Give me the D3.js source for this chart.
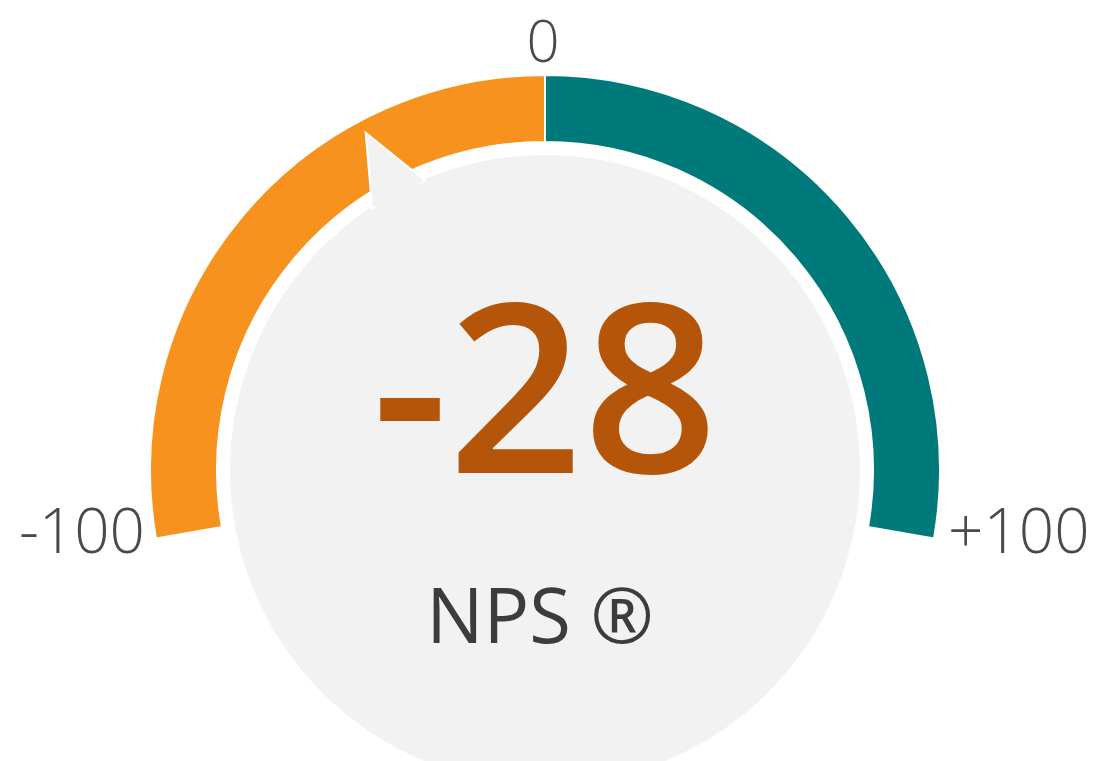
<!DOCTYPE html>
<html>
<head>
<meta charset="utf-8">
<script src="https://cdn.jsdelivr.net/npm/d3@7"></script>
<style>
  html, body { margin: 0; padding: 0; background: #ffffff; }
  svg { display: block; }
  text { font-family: "Open Sans", "Noto Sans", sans-serif; }
</style>
</head>
<body>
<svg id="chart" width="1094" height="761"></svg>
<script>
// ---- data ----
const segments = [
  { name: "negative", from: -100, to: 0 },
  { name: "positive", from: 0, to: 100 }
];
const segmentColors = ["#F7921E", "#00797A"];
const npsValue = -28;
const tickValues = [-100, 0, 100];
const tickLabels = ["-100", "0", "+100"];
const centerLabel = "NPS ®";

// ---- layout ----
const svg = d3.select("#chart");
const cx = 545, cy = 470;
const outerR = 395, innerR = 328, discR = 315;

const angle = d3.scaleLinear()
  .domain([-100, 100])
  .range([-100 * Math.PI / 180, 100 * Math.PI / 180]);

const g = svg.append("g").attr("transform", `translate(${cx},${cy})`);

const arc = d3.arc().innerRadius(innerR).outerRadius(outerR);

g.selectAll("path.seg")
  .data(segments)
  .join("path")
  .attr("class", "seg")
  .attr("d", d => arc({ startAngle: angle(d.from), endAngle: angle(d.to) }))
  .attr("fill", (d, i) => segmentColors[i])
  .attr("stroke", "#ffffff")
  .attr("stroke-width", 2);

// central disc
g.append("circle")
  .attr("r", discR)
  .attr("fill", "#F2F2F2");

// pointer (triangle attached to disc)
const a = angle(npsValue);
const half = 5.5 * Math.PI / 180;
const pt = (ang, r) => [r * Math.sin(ang), -r * Math.cos(ang)];
const tip = pt(a, 382);
const b1 = pt(a - half, discR - 2);
const b2 = pt(a + half, discR - 2);
g.append("path")
  .attr("d", `M${b1[0]},${b1[1]}L${tip[0]},${tip[1]}L${b2[0]},${b2[1]}Z`)
  .attr("fill", "#F2F2F2")
  .attr("stroke", "#ffffff")
  .attr("stroke-width", 2)
  .attr("stroke-linejoin", "miter");
g.append("path")
  .attr("d", `M${pt(a - half * 0.9, discR - 6)}L${pt(a, 370)}L${pt(a + half * 0.9, discR - 6)}Z`)
  .attr("fill", "#F2F2F2");

// value
g.append("text")
  .attr("x", 0)
  .attr("y", 3)
  .attr("text-anchor", "middle")
  .attr("font-size", 236)
  .attr("font-weight", 600)
  .attr("fill", "#B5550A")
  .text(npsValue);

g.append("text")
  .attr("x", -5)
  .attr("y", 173)
  .attr("text-anchor", "middle")
  .attr("font-size", 76)
  .attr("fill", "#3c3c3c")
  .text(centerLabel);

// tick labels
const tickPos = [
  { x: -400, y: 83, anchor: "end", size: 62 },
  { x: -2, y: -408, anchor: "middle", size: 58 },
  { x: 403, y: 83, anchor: "start", size: 62 }
];
g.selectAll("text.tick")
  .data(tickValues)
  .join("text")
  .attr("class", "tick")
  .attr("x", (d, i) => tickPos[i].x)
  .attr("y", (d, i) => tickPos[i].y)
  .attr("text-anchor", (d, i) => tickPos[i].anchor)
  .attr("font-size", (d, i) => tickPos[i].size)
  .attr("font-weight", 300)
  .attr("fill", "#4a4a4a")
  .text((d, i) => tickLabels[i]);
</script>
</body>
</html>
